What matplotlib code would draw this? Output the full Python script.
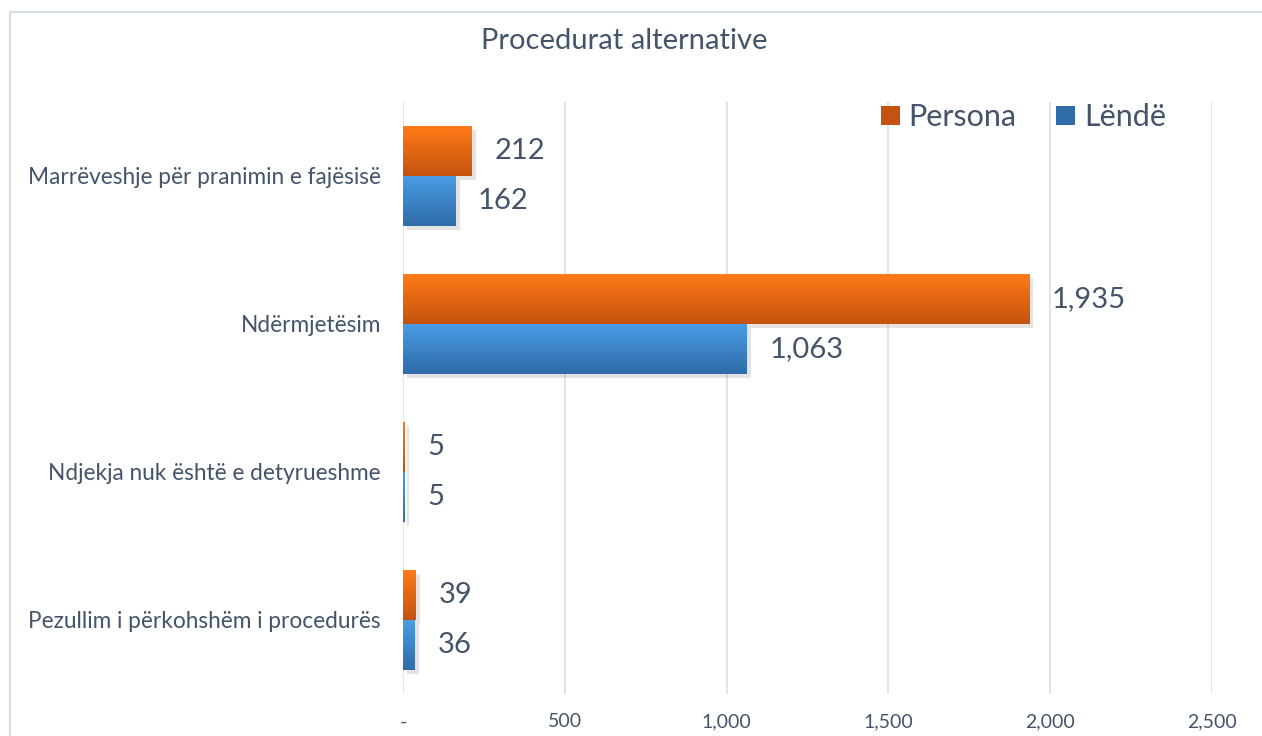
import matplotlib.pyplot as plt
import numpy as np
from matplotlib import patheffects as pe
from matplotlib.colors import LinearSegmentedColormap
from matplotlib.patches import Rectangle

plt.rcParams["font.family"] = ["Lato", "DejaVu Sans"]

categories = [
    "Marrëveshje për pranimin e fajësisë",
    "Ndërmjetësim",
    "Ndjekja nuk është e detyrueshme",
    "Pezullim i përkohshëm i procedurës",
]
persona = [212, 1935, 5, 39]
lende = [162, 1063, 5, 36]
xticks = [0, 500, 1000, 1500, 2000, 2500]
xtick_labels = ["-", "500", "1,000", "1,500", "2,000", "2,500"]

_TEXT = "#44546a"
_GRID = "#d9dee6"
_ORANGE = ("#ff7b17", "#c5530f")
_BLUE = ("#4b9de6", "#2f6ca8")

fig = plt.figure(figsize=(12.62, 7.36), dpi=100)
fig.patches.append(Rectangle((10 / 1262, -0.1), 1.1, 1 - 12 / 736 + 0.1, transform=fig.transFigure,
                             fill=False, edgecolor=_GRID, linewidth=1.5))
ax = fig.add_axes([403 / 1262, 1 - 694 / 736, (1212 - 403) / 1262, (694 - 102) / 736])

y = np.arange(len(categories))
h = 0.34


def gradient_bars(ys, vals, colors, label):
    bars = ax.barh(ys, vals, height=h, color=colors[1], label=label, zorder=3,
                   path_effects=[pe.SimplePatchShadow(offset=(3, -3), alpha=0.12), pe.Normal()])
    cmap = LinearSegmentedColormap.from_list(label, [colors[0], colors[1]])
    grad = np.linspace(0, 1, 64).reshape(-1, 1)
    for b in bars:
        x0, y0 = b.get_x(), b.get_y()
        im = ax.imshow(grad, cmap=cmap, aspect="auto", origin="upper", zorder=4,
                       extent=(x0, x0 + b.get_width(), y0 + b.get_height(), y0))
        im.set_clip_path(b)
    for b, v in zip(bars, vals):
        ax.text(v + 70, b.get_y() + b.get_height() / 2, f"{v:,}", va="center", ha="left",
                fontsize=21, color=_TEXT, zorder=5)
    return bars


gradient_bars(y - h / 2, persona, _ORANGE, "Persona")
gradient_bars(y + h / 2, lende, _BLUE, "Lëndë")

ax.set_xlim(0, 2500)
ax.set_ylim(len(categories) - 0.5, -0.5)
ax.set_xticks(xticks)
ax.set_xticklabels(xtick_labels)
ax.set_yticks(y)
ax.set_yticklabels(categories)
ax.tick_params(axis="x", length=0, labelsize=14, labelcolor=_TEXT, pad=14)
ax.tick_params(axis="y", length=0, labelsize=16.3, labelcolor=_TEXT, pad=16)
ax.grid(axis="x", color=_GRID, linewidth=1.2, zorder=0)
for s in ax.spines.values():
    s.set_visible(False)
ax.set_axisbelow(True)

fig.text(624 / 1262, 1 - 41 / 736, "Procedurat alternative", ha="center", va="center",
         fontsize=21, color=_TEXT)

leg = ax.legend(loc="upper right", bbox_to_anchor=(1172 / 1262, 1 - 97 / 736),
                bbox_transform=fig.transFigure, ncol=2, frameon=False,
                fontsize=22, handlelength=0.6, handleheight=0.6, handletextpad=0.3,
                columnspacing=1.3, borderaxespad=0.0, borderpad=0.2, labelcolor=_TEXT)
for handle, c in zip(leg.legend_handles, (_ORANGE, _BLUE)):
    handle.set_path_effects([])
    handle.set_facecolor(c[1])

fig.savefig("out.png", dpi=100)
